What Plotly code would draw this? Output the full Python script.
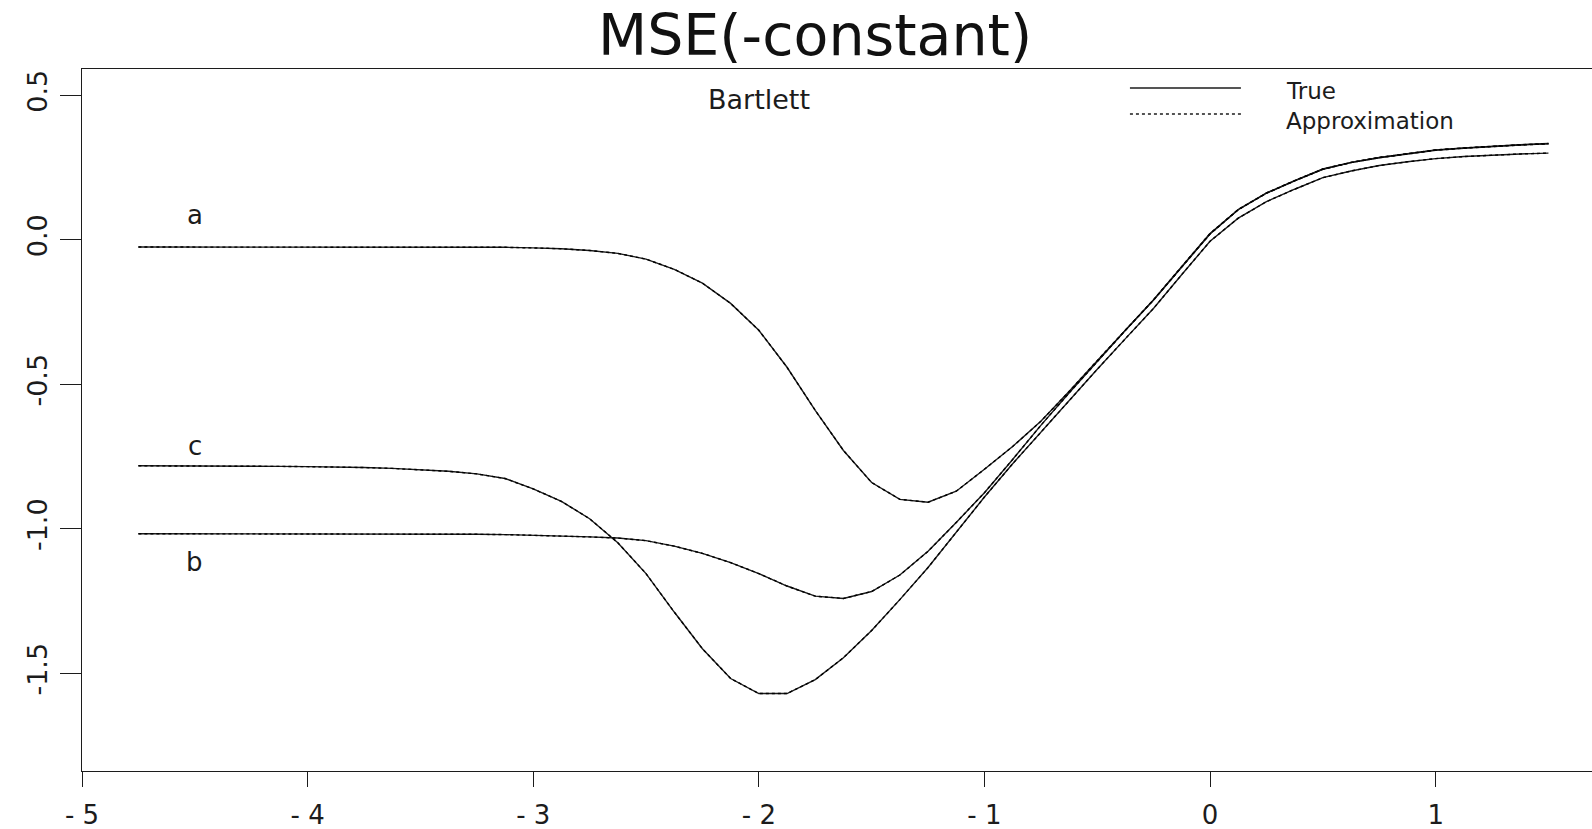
import plotly.graph_objects as go

# x grid (step 0.125 from -4.75 to 1.5)
x_vals = [-4.75, -4.625, -4.5, -4.375, -4.25, -4.125, -4.0, -3.875, -3.75, -3.625,
          -3.5, -3.375, -3.25, -3.125, -3.0, -2.875, -2.75, -2.625, -2.5, -2.375,
          -2.25, -2.125, -2.0, -1.875, -1.75, -1.625, -1.5, -1.375, -1.25, -1.125,
          -1.0, -0.875, -0.75, -0.625, -0.5, -0.375, -0.25, -0.125, 0.0, 0.125,
          0.25, 0.375, 0.5, 0.625, 0.75, 0.875, 1.0, 1.125, 1.25, 1.375, 1.5]

true_a = [-0.025, -0.025, -0.025, -0.025, -0.025, -0.025, -0.025, -0.025, -0.025, -0.025,
          -0.025, -0.025, -0.025, -0.026, -0.028, -0.031, -0.037, -0.047, -0.067, -0.102,
          -0.150, -0.220, -0.313, -0.441, -0.590, -0.729, -0.840, -0.898, -0.908, -0.870,
          -0.794, -0.715, -0.628, -0.525, -0.418, -0.312, -0.207, -0.092, 0.022, 0.105,
          0.162, 0.205, 0.245, 0.268, 0.285, 0.298, 0.311, 0.318, 0.324, 0.329, 0.333]

true_b = [-1.017, -1.017, -1.017, -1.017, -1.017, -1.017, -1.017, -1.017, -1.017, -1.017,
          -1.017, -1.018, -1.019, -1.020, -1.022, -1.025, -1.028, -1.032, -1.041, -1.060,
          -1.085, -1.117, -1.155, -1.198, -1.233, -1.241, -1.217, -1.160, -1.078, -0.978,
          -0.875, -0.760, -0.642, -0.530, -0.420, -0.313, -0.208, -0.093, 0.020, 0.104,
          0.161, 0.204, 0.244, 0.267, 0.284, 0.297, 0.310, 0.317, 0.323, 0.328, 0.332]

true_c = [-0.782, -0.782, -0.782, -0.783, -0.783, -0.784, -0.785, -0.786, -0.788, -0.791,
          -0.795, -0.801, -0.810, -0.826, -0.862, -0.905, -0.965, -1.048, -1.155, -1.288,
          -1.415, -1.518, -1.570, -1.570, -1.522, -1.446, -1.352, -1.245, -1.134, -1.012,
          -0.890, -0.775, -0.665, -0.555, -0.448, -0.342, -0.237, -0.120, -0.005, 0.075,
          0.132, 0.175, 0.215, 0.238, 0.257, 0.270, 0.281, 0.288, 0.293, 0.297, 0.300]

approx_a = [-0.025, -0.025, -0.025, -0.025, -0.025, -0.025, -0.025, -0.025, -0.025, -0.025,
            -0.025, -0.025, -0.025, -0.026, -0.028, -0.031, -0.037, -0.047, -0.067, -0.102,
            -0.150, -0.220, -0.313, -0.441, -0.590, -0.729, -0.840, -0.898, -0.908, -0.870,
            -0.794, -0.715, -0.628, -0.525, -0.418, -0.312, -0.207, -0.092, 0.022, 0.105,
            0.162, 0.205, 0.245, 0.268, 0.285, 0.298, 0.311, 0.318, 0.324, 0.329, 0.333]

approx_b = [-1.017, -1.017, -1.017, -1.017, -1.017, -1.017, -1.017, -1.017, -1.017, -1.017,
            -1.017, -1.018, -1.019, -1.020, -1.022, -1.025, -1.028, -1.032, -1.041, -1.060,
            -1.085, -1.117, -1.155, -1.198, -1.233, -1.241, -1.217, -1.160, -1.078, -0.978,
            -0.875, -0.760, -0.642, -0.530, -0.420, -0.313, -0.208, -0.093, 0.020, 0.104,
            0.161, 0.204, 0.244, 0.267, 0.284, 0.297, 0.310, 0.317, 0.323, 0.328, 0.332]

approx_c = [-0.782, -0.782, -0.782, -0.783, -0.783, -0.784, -0.785, -0.786, -0.788, -0.791,
            -0.795, -0.801, -0.810, -0.826, -0.862, -0.905, -0.965, -1.048, -1.155, -1.288,
            -1.415, -1.518, -1.570, -1.570, -1.522, -1.446, -1.352, -1.245, -1.134, -1.012,
            -0.890, -0.775, -0.665, -0.555, -0.448, -0.342, -0.237, -0.120, -0.005, 0.075,
            0.132, 0.175, 0.215, 0.238, 0.257, 0.270, 0.281, 0.288, 0.293, 0.297, 0.300]

x_ticks = [-5, -4, -3, -2, -1, 0, 1]
x_tick_labels = ["- 5", "- 4", "- 3", "- 2", "- 1", "0", "1"]
y_ticks = [0.5, 0.0, -0.5, -1.0, -1.5]
y_tick_labels = ["0.5", "0.0", "-0.5", "-1.0", "-1.5"]

curve_labels = ["a", "c", "b"]
curve_label_x = [-4.5, -4.5, -4.5]
curve_label_y = [0.085, -0.715, -1.115]

legend_labels = ["True", "Approximation"]

INK = "#1c1c1c"
FONT = "DejaVu Sans"

fig = go.Figure()
for ys in (true_a, true_b, true_c):
    fig.add_trace(go.Scatter(x=x_vals, y=ys, mode="lines",
                             line=dict(color=INK, width=1.4), showlegend=False,
                             hoverinfo="skip"))
for ys in (approx_a, approx_b, approx_c):
    fig.add_trace(go.Scatter(x=x_vals, y=ys, mode="lines",
                             line=dict(color="#000000", width=1.4, dash="dot"),
                             showlegend=False, hoverinfo="skip"))

annotations = []
for t, xx, yy in zip(curve_labels, curve_label_x, curve_label_y):
    annotations.append(dict(x=xx, y=yy, xref="x", yref="y", text=t, showarrow=False,
                            font=dict(family=FONT, size=26, color=INK),
                            xanchor="center", yanchor="middle"))
annotations.append(dict(x=-2.0, y=0.485, xref="x", yref="y", text="Bartlett",
                        showarrow=False, font=dict(family=FONT, size=27, color=INK),
                        xanchor="center", yanchor="middle"))
for t, yy in zip(legend_labels, [0.9687, 0.9259]):
    annotations.append(dict(x=0.797, y=yy, xref="paper", yref="paper", text=t,
                            showarrow=False, borderpad=0,
                            font=dict(family=FONT, size=23, color=INK),
                            xanchor="left", yanchor="middle"))

shapes = [
    dict(type="line", xref="paper", yref="paper", x0=0.694, x1=0.7675, y0=0.973, y1=0.973,
         line=dict(color=INK, width=1.4)),
    dict(type="line", xref="paper", yref="paper", x0=0.694, x1=0.7675, y0=0.936, y1=0.936,
         line=dict(color=INK, width=1.4, dash="dot")),
]

fig.update_layout(
    width=1592, height=829,
    margin=dict(l=82, r=0, t=69, b=58, pad=0),
    paper_bgcolor="white", plot_bgcolor="white",
    title=dict(text="MSE(-constant)", x=0.512, xanchor="center",
               y=1 - 35 / 829, yanchor="middle", yref="container",
               font=dict(family=FONT, size=57, color="#111111")),
    annotations=annotations,
    shapes=shapes,
    xaxis=dict(range=[-5, 1.693], tickvals=x_ticks, ticktext=x_tick_labels,
               showgrid=False, zeroline=False, showline=True, mirror=True,
               linecolor=INK, linewidth=1.4, ticks="outside", ticklen=15,
               tickwidth=1.4, tickcolor=INK, ticklabelstandoff=6,
               tickfont=dict(family=FONT, size=26, color=INK)),
    yaxis=dict(range=[-1.838, 0.591], tickvals=y_ticks, ticktext=y_tick_labels,
               showgrid=False, zeroline=False, showline=True, mirror=False,
               linecolor=INK, linewidth=1.4, ticks="outside", ticklen=21,
               tickwidth=1.4, tickcolor=INK, tickangle=-90, ticklabelstandoff=2,
               tickfont=dict(family=FONT, size=27, color=INK)),
)

fig.write_html("out.html")
